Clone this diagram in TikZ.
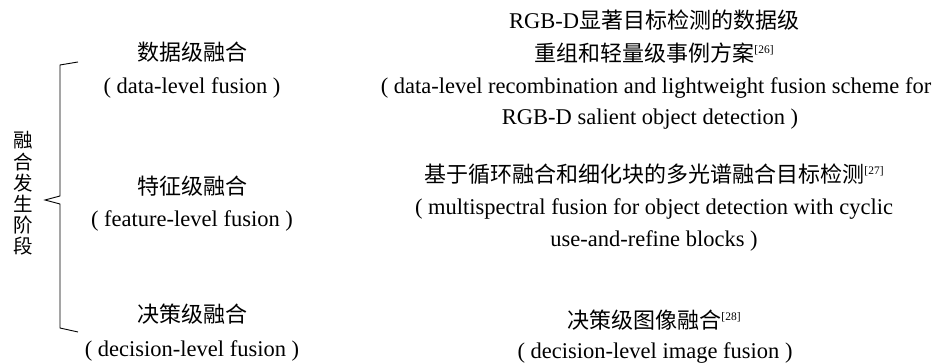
\documentclass[tikz,border=0pt]{standalone}
\usepackage{fontspec}
\setmainfont{Liberation Serif}
\newfontfamily\cjk{Noto Sans CJK SC}
% Chinese run at its own size, inside Latin lines
\newcommand\hz[1]{{\fontsize{22}{24}\selectfont\cjk #1}}
% raised citation mark
\newcommand\refmark[1]{\raisebox{8pt}{\fontsize{11.5}{12}\selectfont[#1]}}
\begin{document}
\begin{tikzpicture}[x=1pt,y=-1pt,
  txt/.style={inner sep=0pt, anchor=base, font=\fontsize{22.5}{26}\selectfont},
  vert/.style={inner sep=0pt, align=center, font=\fontsize{19.5}{21.2}\selectfont\cjk},
  bracket/.style={line width=0.9pt, line join=miter}]
\useasboundingbox (0,0) rectangle (934,363);

% left column: fusion stages
\node[txt] (l1) at (192,61)  {\hz{数据级融合}};
\node[txt] (l2) at (192,94)  {( data-level fusion )};
\node[txt] (l3) at (192,195) {\hz{特征级融合}};
\node[txt] (l4) at (192,227) {( feature-level fusion )};
\node[txt] (l5) at (192,323) {\hz{决策级融合}};
\node[txt] (l6) at (192,356) {( decision-level fusion )};

% right column: example methods
\node[txt] (r1) at (654,29)  {RGB-D\hz{显著目标检测的数据级}};
\node[txt] (r2) at (654,62)  {\hz{重组和轻量级事例方案}\refmark{26}};
\node[txt] (r3) at (656,94)  {( data-level recombination and lightweight fusion scheme for};
\node[txt] (r4) at (650,125) {RGB-D salient object detection )};
\node[txt] (r5) at (654,183) {\hz{基于循环融合和细化块的多光谱融合目标检测}\refmark{27}};
\node[txt] (r6) at (654,215) {( multispectral fusion for object detection with cyclic};
\node[txt] (r7) at (654,247) {use-and-refine blocks )};
\node[txt] (r8) at (654,328) {\hz{决策级图像融合}\refmark{28}};
\node[txt] (r9) at (655,358) {( decision-level image fusion )};

% vertical label
\node[vert] (stage) at (23,193.5) {融\\合\\发\\生\\阶\\段};

% brace
\coordinate (bt) at (78,62);
\coordinate (bb) at (78,332);
\coordinate (tip) at (45,200);
\draw[bracket] (bt) -- (60,65) -- (60,196) -- (tip) -- (60,204) -- (60,328) -- (bb);
\end{tikzpicture}
\end{document}
